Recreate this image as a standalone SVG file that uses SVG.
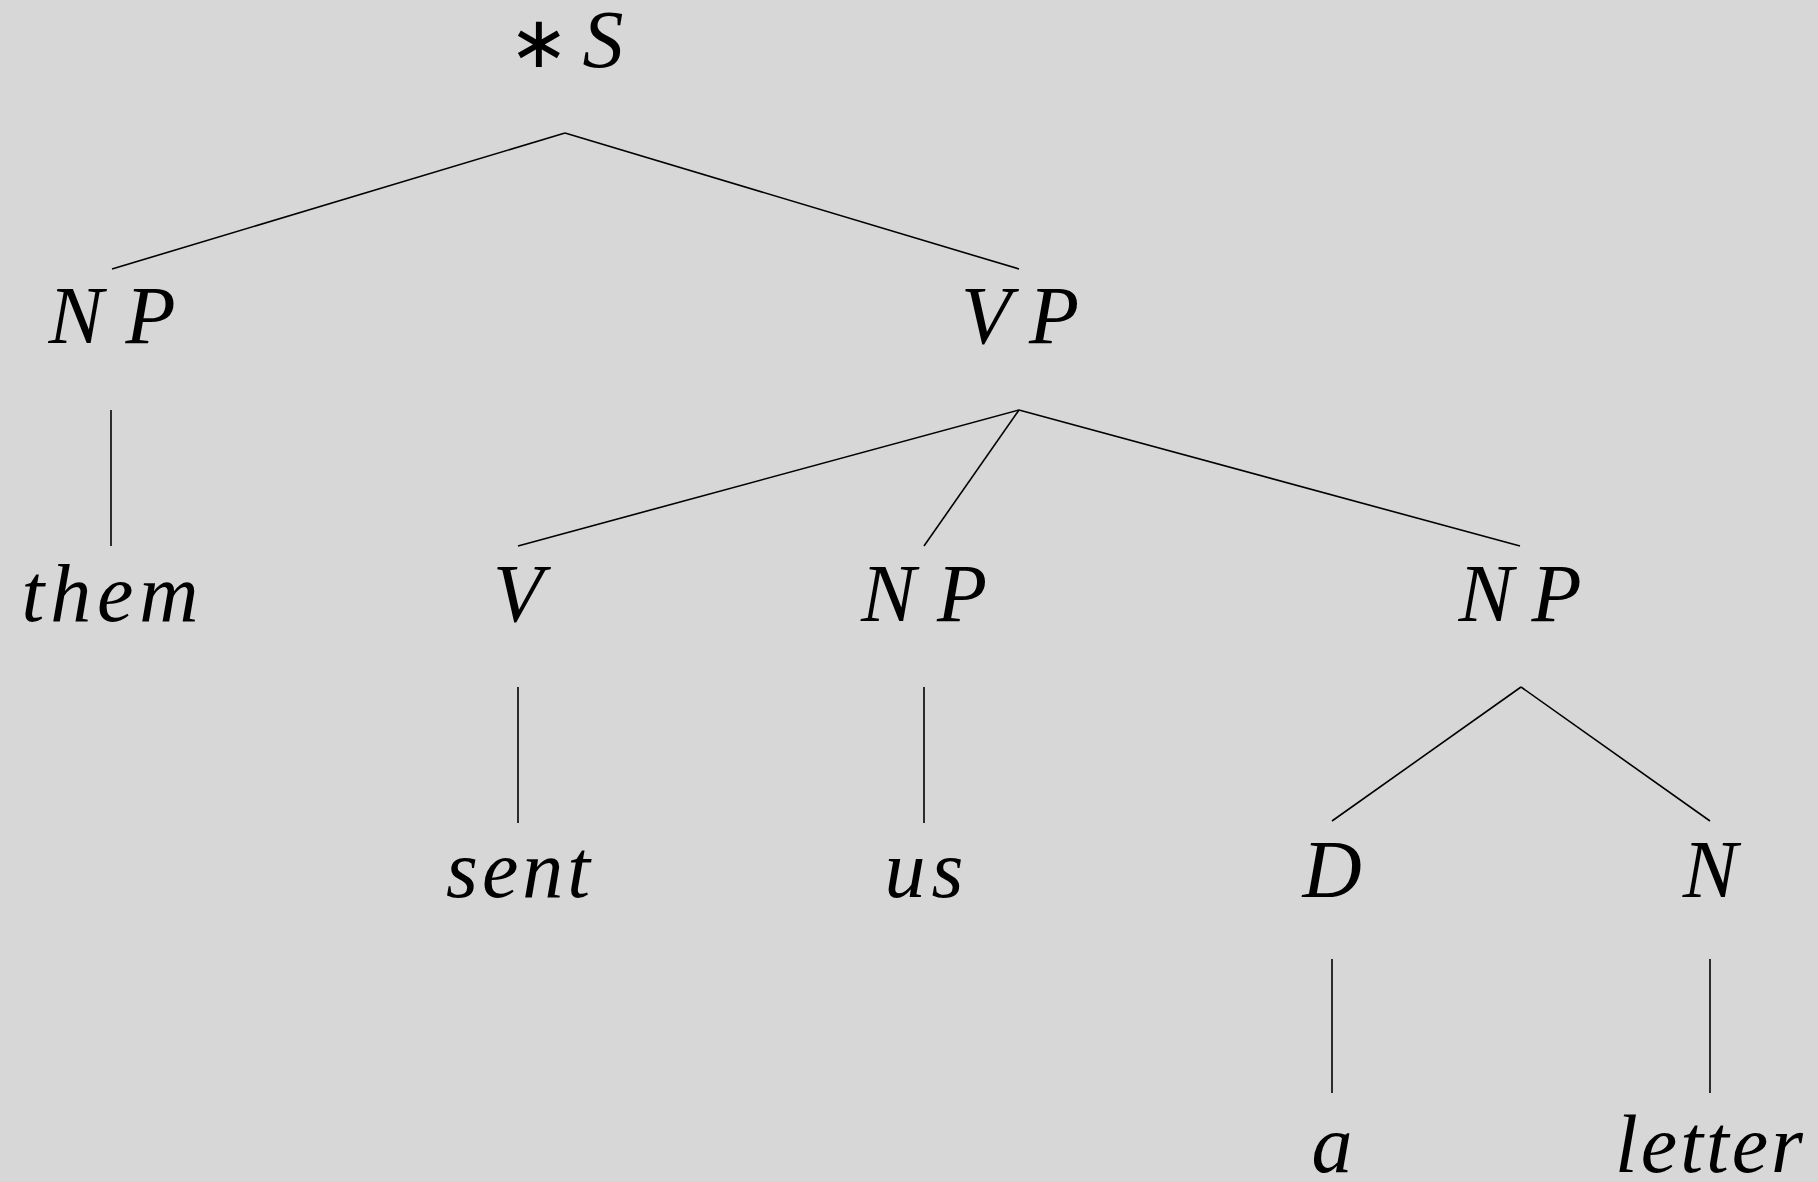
<svg xmlns="http://www.w3.org/2000/svg" width="1818" height="1182" viewBox="0 0 1818 1182">
<style>
.lbl{font-family:"Liberation Serif","Times New Roman",serif;font-style:italic;font-size:82px;fill:#000;text-anchor:middle}
.op{font-family:"DejaVu Sans",sans-serif;font-style:normal;font-size:72px}
.edge{stroke:#000;stroke-width:1.6;fill:none;stroke-linecap:butt}
</style>
<rect width="1818" height="1182" fill="#d7d7d7"/>
<g id="connectors">
<line class="edge" x1="565" y1="133" x2="112" y2="269"/>
<line class="edge" x1="565" y1="133" x2="1019" y2="269"/>
<line class="edge" x1="111" y1="410" x2="111" y2="546"/>
<line class="edge" x1="1019" y1="410" x2="518" y2="546"/>
<line class="edge" x1="1019" y1="410" x2="924" y2="546"/>
<line class="edge" x1="1019" y1="410" x2="1520" y2="546"/>
<line class="edge" x1="518" y1="687" x2="518" y2="823"/>
<line class="edge" x1="924" y1="687" x2="924" y2="823"/>
<line class="edge" x1="1521" y1="687" x2="1332" y2="821"/>
<line class="edge" x1="1521" y1="687" x2="1710" y2="821"/>
<line class="edge" x1="1332" y1="959" x2="1332" y2="1093"/>
<line class="edge" x1="1710" y1="959" x2="1710" y2="1093"/>
</g>
<g id="n-S"><text class="lbl" y="67"><tspan class="op" x="539">∗</tspan><tspan x="603">S</tspan></text></g>
<g id="n-NP1"><text class="lbl" x="112" y="343" textLength="127" lengthAdjust="spacing">NP</text></g>
<g id="n-VP"><text class="lbl" x="1020" y="343" textLength="118" lengthAdjust="spacing">VP</text></g>
<g id="n-them"><text class="lbl" x="110" y="621" textLength="177" lengthAdjust="spacing">them</text></g>
<g id="n-V"><text class="lbl" x="518" y="621">V</text></g>
<g id="n-NP2"><text class="lbl" x="924" y="621" textLength="126" lengthAdjust="spacing">NP</text></g>
<g id="n-NP3"><text class="lbl" x="1520" y="621" textLength="123" lengthAdjust="spacing">NP</text></g>
<g id="n-sent"><text class="lbl" x="518" y="897" textLength="144" lengthAdjust="spacing">sent</text></g>
<g id="n-us"><text class="lbl" x="924" y="897" textLength="79" lengthAdjust="spacing">us</text></g>
<g id="n-D"><text class="lbl" x="1332" y="897">D</text></g>
<g id="n-N"><text class="lbl" x="1710" y="897">N</text></g>
<g id="n-a"><text class="lbl" x="1332" y="1172">a</text></g>
<g id="n-letter"><text class="lbl" x="1709" y="1172" textLength="188" lengthAdjust="spacing">letter</text></g>
</svg>
